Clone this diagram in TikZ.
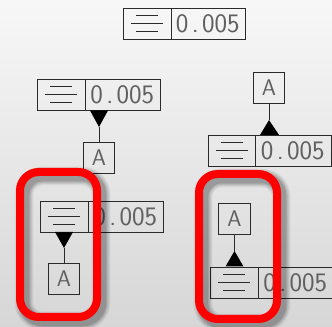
\documentclass[tikz,border=0pt]{standalone}
\usepackage{fontspec}
\usetikzlibrary{calc}
\definecolor{linec}{HTML}{2A2A2A}
\definecolor{txtc}{HTML}{606060}
\tikzset{
  cellbox/.style={draw=linec,line width=0.75pt,inner sep=0pt,minimum height=23.25pt,anchor=north west,text=txtc,font=\sffamily\fontsize{20}{20}\selectfont\addfontfeature{FakeStretch=1.12,LetterSpace=7}},
  letterbox/.style={draw=linec,line width=0.75pt,inner sep=0pt,minimum width=23.5pt,minimum height=23.5pt,text=txtc,font=\sffamily\fontsize{17}{17}\selectfont\addfontfeature{FakeStretch=0.9}},
  flatline/.style={draw=linec,line width=0.6pt},
  stem/.style={draw=linec,line width=0.75pt},
  tip/.style={fill=black,draw=none},
  redframe/.style={draw=red,line width=6pt,rounded corners=14pt},
}
% name, left x, top y, divider x, right x
\newcommand{\flatframe}[5]{%
  \node[cellbox,minimum width={(#4-#2)*0.75pt}] (#1sym) at (#2,#3) {};
  \node[cellbox,minimum width={(#5-#4)*0.75pt}] (#1val) at (#4,#3) {\hspace*{-1pt}0\kern2.5pt.\kern2.5pt005};
  \draw[flatline] ($(#1sym.north west)+(13,7.5)$) -- ++(22,0);
  \draw[flatline] ($(#1sym.north west)+(8,15.5)$) -- ++(32,0);
  \draw[flatline] ($(#1sym.north west)+(13,23.5)$) -- ++(22,0);
}
\begin{document}
\begin{tikzpicture}[x=0.75pt,y=-0.75pt]
\useasboundingbox (0,0) rectangle (332,327);
\clip (0,0) rectangle (332,327);
\shade[top color=white!97!black,bottom color=white!84!black] (0,0) rectangle (332,327);

\flatframe{top}{123}{8}{171}{245}

\flatframe{la}{37}{79}{85}{160}
\node[letterbox] (laA) at (99,158) {A};
\coordinate (laT) at (99,127);
\fill[tip] (90,110.5) -- (108,110.5) -- (laT) -- cycle;
\draw[stem] (laT) -- (laA.north);

\flatframe{lb}{40}{201}{88}{163}
\node[letterbox] (lbA) at (64,279) {A};
\coordinate (lbT) at (64,248);
\fill[tip] (55,232) -- (73,232) -- (lbT) -- cycle;
\draw[stem] (lbT) -- (lbA.north);

\flatframe{ra}{208}{135}{255}{331}
\node[letterbox] (raA) at (269,88) {A};
\coordinate (raT) at (269,120);
\fill[tip] (260,135) -- (279,135) -- (raT) -- cycle;
\draw[stem] (raA.south) -- (raT);

\flatframe{rb}{210}{267}{258}{333}
\node[letterbox] (rbA) at (234.5,219) {A};
\coordinate (rbT) at (234.5,251);
\fill[tip] (225.5,266.5) -- (243.5,266.5) -- (rbT) -- cycle;
\draw[stem] (rbA.south) -- (rbT);

% soft shadows
\foreach \w/\o in {14/0.06,12/0.08,10/0.10,8/0.13}{
  \draw[black,opacity=\o,line width=\w pt,rounded corners=14pt] (24,176) rectangle (101,321);
  \draw[black,opacity=\o,line width=\w pt,rounded corners=14pt] (203,178) rectangle (281,323);
}
\draw[redframe] (20,172) rectangle (97,317);
\draw[redframe] (199,174) rectangle (277,319);
\end{tikzpicture}
\end{document}
